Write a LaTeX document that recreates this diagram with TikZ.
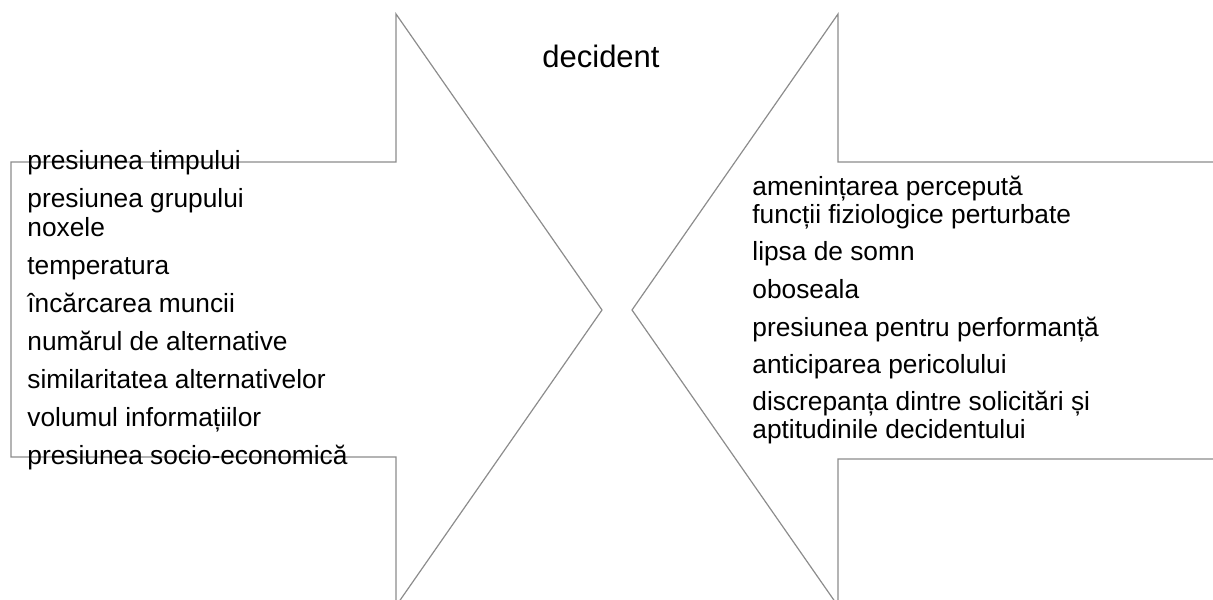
\documentclass[tikz,border=0pt]{standalone}
\usepackage{fontspec}
\setmainfont{Liberation Sans}
\usetikzlibrary{positioning}
\definecolor{outline}{HTML}{8C8C8C}

\tikzset{
  factor/.style={anchor=base west, inner sep=0pt, font=\fontsize{13.15}{15}\selectfont},
  bigarrow/.style={draw=outline, line width=0.6pt, line join=miter}
}

\begin{document}
\begin{tikzpicture}[x=0.5pt, y=-0.5pt]
  \useasboundingbox (0,0) rectangle (1213,599);
  \clip (0,0) rectangle (1213,599);

  % Left arrow, pointing right
  \draw[bigarrow] (11,162) -- (396,162) -- (396,14) -- (602,310)
    -- (396,606) -- (396,457) -- (11,457) -- cycle;

  % Right arrow, pointing left (tail runs off to the right)
  \draw[bigarrow] (1230,162) -- (838,162) -- (838,14) -- (632,310)
    -- (838,606) -- (838,459) -- (1230,459);

  % Title
  \node[anchor=base, inner sep=0pt, font=\fontsize{15.5}{18}\selectfont] (title) at (601,68) {decident};

  % External factors
  \node[factor] (timp) at (27,169) {presiunea timpului};
  \node[factor] (grup) at (27,207) {presiunea grupului};
  \node[factor] (nox) at (27,236) {noxele};
  \node[factor] (temp) at (27,274) {temperatura};
  \node[factor] (munca) at (27,312) {încărcarea muncii};
  \node[factor] (nralt) at (27,350) {numărul de alternative};
  \node[factor] (simalt) at (27,388) {similaritatea alternativelor};
  \node[factor] (info) at (27,426) {volumul informațiilor};
  \node[factor] (socio) at (27,464) {presiunea socio-economică};

  % Internal factors
  \node[factor] (amen) at (752,195) {amenințarea percepută};
  \node[factor] (fiz) at (752,223) {funcții fiziologice perturbate};
  \node[factor] (somn) at (752,260) {lipsa de somn};
  \node[factor] (obos) at (752,298) {oboseala};
  \node[factor] (perf) at (752,336) {presiunea pentru performanță};
  \node[factor] (peric) at (752,373) {anticiparea pericolului};
  \node[factor] (discr) at (752,410) {discrepanța dintre solicitări și};
  \node[factor] (apt) at (752,438) {aptitudinile decidentului};
\end{tikzpicture}
\end{document}
